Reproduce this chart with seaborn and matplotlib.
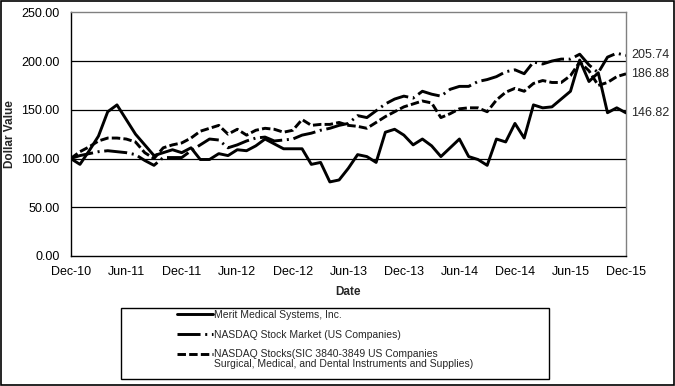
import numpy as np
import pandas as pd
import matplotlib
matplotlib.use('Agg')
import matplotlib.pyplot as plt
import matplotlib.patches as patches
import seaborn as sns

sns.set_style('white')
plt.rcParams['font.family'] = ['Liberation Sans', 'DejaVu Sans']

# Data (indexed by month, Dec-10 .. Dec-15)
month_names = pd.date_range('2010-12-01', periods=61, freq='MS').strftime('%b-%y').tolist()
tick_labels = ['Dec-10', 'Jun-11', 'Dec-11', 'Jun-12', 'Dec-12', 'Jun-13',
               'Dec-13', 'Jun-14', 'Dec-14', 'Jun-15', 'Dec-15']

merit = [100, 94, 108, 123, 148, 155, 140, 125, 114, 103,
         106, 109, 106, 111, 99, 99, 105, 103, 109, 108,
         113, 120, 115, 110, 110, 110, 94, 96, 76, 78,
         90, 104, 102, 96, 127, 130, 124, 114, 120, 113,
         102, 111, 120, 102, 99, 93, 120, 117, 136, 121,
         155, 152, 153, 161, 169, 201, 179, 188, 147, 152, 146.82]

nasdaq = [100, 103, 105, 107, 108, 107, 106, 104, 98, 93,
          101, 101, 101, 108, 114, 120, 119, 111, 114, 118,
          121, 122, 118, 119, 120, 124, 126, 129, 131, 134,
          136, 144, 142, 149, 156, 161, 164, 162, 169, 166,
          164, 171, 174, 174, 179, 181, 184, 189, 191, 187,
          199, 197, 200, 202, 202, 207, 196, 188, 204, 208, 205.74]

sic = [100, 107, 112, 118, 121, 121, 120, 117, 106, 100,
       111, 114, 116, 121, 128, 131, 134, 125, 130, 124,
       129, 131, 130, 127, 129, 140, 134, 135, 135, 137,
       134, 133, 131, 137, 143, 148, 153, 156, 159, 157,
       142, 146, 151, 152, 152, 148, 160, 168, 172, 169,
       177, 180, 178, 178, 185, 199, 190, 175, 178, 184, 186.88]

series_names = ['Merit Medical Systems, Inc.',
                'NASDAQ Stock Market (US Companies)',
                'NASDAQ Stocks(SIC 3840-3849 US Companies']
sic_second_line = 'Surgical, Medical, and Dental Instruments and Supplies)'

#Build long dataframe
df = pd.DataFrame({'Month': month_names, 'idx': np.arange(len(month_names)),
                   series_names[0]: merit, series_names[1]: nasdaq, series_names[2]: sic})
long_df = df.melt(id_vars=['Month', 'idx'], var_name='Series', value_name='Value')

fig = plt.figure(figsize=(6.75, 3.86), dpi=100)
ax = fig.add_axes([70.7/675, 1-256/386, (626-70.7)/675, (256-12.3)/386])

dash_map = {series_names[0]: '',
            series_names[1]: (7.9, 1.6, 0.7, 1.6),
            series_names[2]: (2.9, 1.1)}
sns.lineplot(data=long_df, x='idx', y='Value', hue='Series', style='Series',
             hue_order=series_names, style_order=series_names,
             palette=['black']*3, dashes=dash_map, linewidth=2.1,
             legend=False, sort=False, ax=ax, zorder=3)

ax.set_xlim(0, 60)
ax.set_ylim(0, 250)
ax.set_xticks([month_names.index(t) for t in tick_labels])
ax.set_xticklabels(tick_labels)
ax.set_yticks(np.arange(0, 251, 50))
ax.set_yticklabels(['%.2f' % v for v in np.arange(0, 251, 50)])
ax.tick_params(direction='out', length=3, width=1, color='black', labelsize=9,
               labelcolor='black')
ax.tick_params(axis='y', pad=5)
ax.tick_params(axis='x', pad=4)

#Grid lines, only inner ones
ax.yaxis.grid(True, color='black', linewidth=0.9)
ax.xaxis.grid(False)
gl = ax.get_ygridlines()
gl[0].set_visible(False)
gl[-1].set_visible(False)

for s in ['top', 'right']:
    ax.spines[s].set_color('#808080')
    ax.spines[s].set_linewidth(1)
for s in ['left', 'bottom']:
    ax.spines[s].set_color('black')
    ax.spines[s].set_linewidth(1)

ax.set_ylabel('Dollar Value', fontweight='bold', fontsize=8.5)
ax.yaxis.set_label_coords(-0.099, 0.5)
ax.set_xlabel('Date', fontweight='bold', fontsize=8.5)
ax.xaxis.set_label_coords(0.5, -0.125)

#End value labels
for vals in [merit, nasdaq, sic]:
    ax.annotate('%.2f' % vals[-1], xy=(60, vals[-1]), xytext=(4, 0),
                textcoords='offset points', va='center', ha='left',
                fontsize=9, annotation_clip=False)

#Legend
leg = fig.legend(ax.lines[:3], series_names, loc='upper left',
                 bbox_to_anchor=(177/675, 1-310/386), frameon=False,
                 fontsize=7.5, handlelength=3.5, handletextpad=0.05,
                 labelspacing=0.93, borderpad=0, borderaxespad=0)
fig.patches.append(patches.Rectangle((120.7/675, 1-379/386), (549-120.7)/675, (379-308)/386,
                                     transform=fig.transFigure, fill=False,
                                     edgecolor='black', linewidth=1))
fig.patches.append(patches.Rectangle((0.001, 0.002), 0.997, 0.995,
                                     transform=fig.transFigure, fill=False,
                                     edgecolor='black', linewidth=1.2))

# second line of the last legend entry, under its first line
fig.canvas.draw()
r = fig.canvas.get_renderer()
bb = leg.get_texts()[2].get_window_extent(r)
fig.text(bb.x0/fig.bbox.width, (bb.y0 + bb.y1)/2/fig.bbox.height - 10/386,
         sic_second_line, fontsize=7.5, va='center', ha='left')

fig.savefig('out.png', dpi=100)
